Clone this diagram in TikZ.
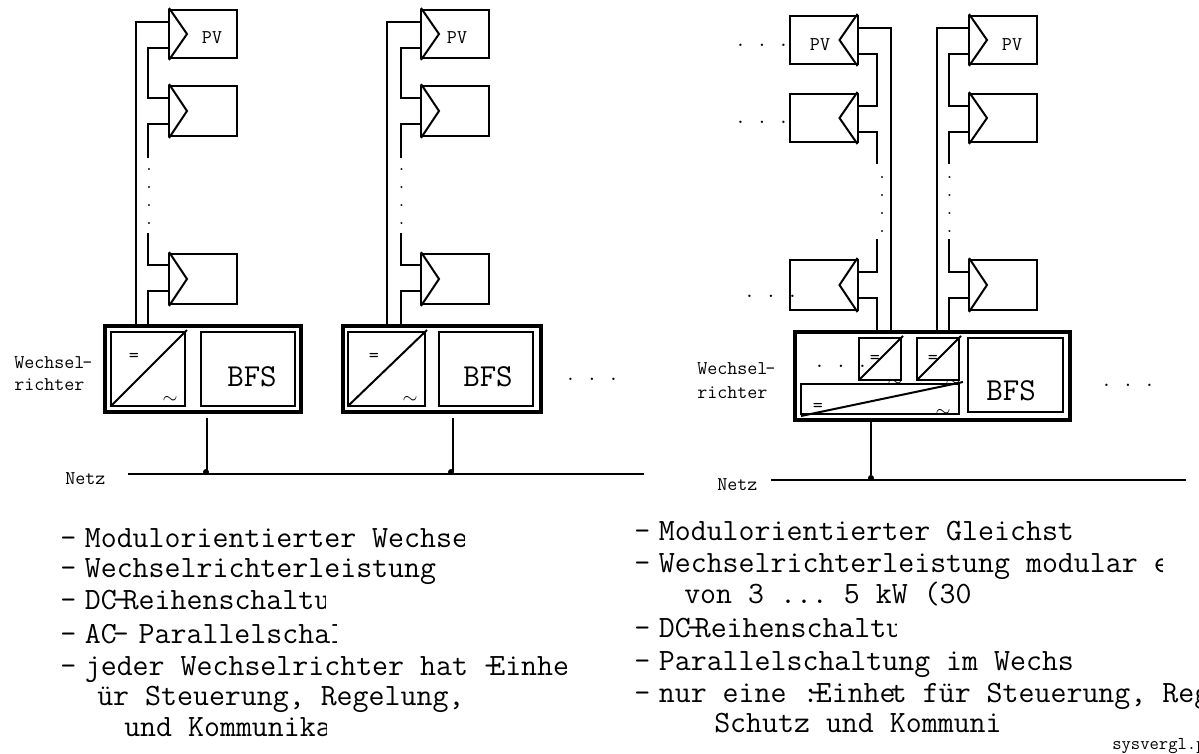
\documentclass[tikz,border=0pt]{standalone}
\usepackage{tikz}
\newcommand{\strich}{-\kern-5.5pt\ }

\begin{document}
\frenchspacing
\begin{tikzpicture}[
      x=0.75pt, y=-0.75pt,
      modul/.style={draw, line width=1.5pt, outer sep=0pt, minimum width=51pt, minimum height=37.5pt, inner sep=0pt},
      modulk/.style={modul, minimum height=36pt},
      rahmen/.style={draw, line width=3.4pt, minimum height=64.5pt, inner sep=0pt},
      innen/.style={draw, line width=1.5pt, outer sep=0pt, inner sep=0pt},
      leitung/.style={-, line width=1.5pt},
      knoten/.style={circle, fill=black, inner sep=0pt, minimum size=4.5pt},
      klein/.style={font=\ttfamily\fontsize{14.6}{16}\selectfont, inner sep=0pt},
      gross/.style={font=\ttfamily\fontsize{24}{26}\selectfont, inner sep=0pt},
      punkte/.style={font=\ttfamily\fontsize{15.7}{13.5}\selectfont, inner sep=0pt, anchor=base},
      reihe/.style={font=\ttfamily\fontsize{13}{13.5}\selectfont, inner sep=0pt, align=center},
      zeile/.style={font=\ttfamily\fontsize{23.25}{24}\selectfont, inner sep=0pt, anchor=base west}
    ]
    \useasboundingbox (0,0) rectangle (1199,753);

    % linke Anlage
    \node[modulk] (a1) at (203,34)  {};
    \node[modul]  (a2) at (203,111) {};
    \node[modul]  (a3) at (203,279) {};
    \node[modulk] (b1) at (455,34)  {};
    \node[modul]  (b2) at (455,111) {};
    \node[modul]  (b3) at (455,279) {};
    \node[klein] (pva) at (212,38) {PV};
    \node[klein] (pvb) at (457,38) {PV};

    % rechte Anlage
    \node[modulk] (c1) at (823.5,40)  {};
    \node[modulk] (c2) at (823.5,118) {};
    \node[modul]  (c3) at (823.5,285) {};
    \node[modulk] (d1) at (1003,40)  {};
    \node[modulk] (d2) at (1003,118) {};
    \node[modul]  (d3) at (1003,285) {};
    \node[klein] (pvc) at (820,45) {PV};
    \node[klein] (pvd) at (1012,45) {PV};

    \foreach \m in {a1,a2,a3,b1,b2,b3,d1,d2,d3}
      \draw[leitung] ([yshift=1.5pt]\m.north west) -- ([xshift=13.5pt]\m.west) -- ([yshift=-1.5pt]\m.south west);
    \foreach \m in {c1,c2,c3}
      \draw[leitung] ([yshift=1.5pt]\m.north east) -- ([xshift=-13.5pt]\m.east) -- ([yshift=-1.5pt]\m.south east);

    % Wechselrichter
    \node[rahmen, minimum width=147pt]    (wa) at (203,369) {};
    \node[rahmen, minimum width=148.5pt]  (wb) at (442,369) {};
    \node[rahmen, minimum width=206.25pt, minimum height=66pt] (wc) at (932.5,376) {};

    \node[innen, minimum width=55.5pt, minimum height=55.5pt] (ua) at (148,369)   {};
    \node[innen, minimum width=57.75pt, minimum height=55.5pt] (ub) at (386.5,369) {};
    \node[innen, minimum width=70.5pt, minimum height=55.5pt] (fa) at (248,369)   {};
    \node[innen, minimum width=70.5pt, minimum height=55.5pt] (fb) at (486,369)   {};
    \node[innen, minimum width=71.25pt, minimum height=55.5pt] (fc) at (1015.5,375) {};
    \node[innen, minimum width=31.5pt, minimum height=31.5pt] (uc) at (880,359) {};
    \node[innen, minimum width=31.5pt, minimum height=31.5pt] (ud) at (938,359) {};

    \node[klein] (tc) at (895,383) {$\sim$};
    \node[klein] (td) at (953,383) {$\sim$};
    \node[innen, fill=white, minimum width=118.5pt, minimum height=22.5pt] (ue) at (880,399) {};
    \node[klein] (te) at (943,413) {$\sim$};

    \draw[leitung] (ua.south west) -- ([xshift=1.5pt,yshift=1.5pt]ua.north east);
    \draw[leitung] (ub.south west) -- ([xshift=1.5pt,yshift=1.5pt]ub.north east);
    \draw[leitung] (uc.south west) -- ([xshift=1.5pt,yshift=1.5pt]uc.north east);
    \draw[leitung] (ud.south west) -- ([xshift=1.5pt,yshift=1.5pt]ud.north east);
    \draw[leitung] ([yshift=-1.5pt]ue.south west) -- ([xshift=3pt,yshift=1.5pt]ue.north east);

    \node[klein] (ga) at (134,357) {=};
    \node[klein] (gb) at (374,357) {=};
    \node[klein] (gc) at (875,359) {=};
    \node[klein] (gd) at (933,359) {=};
    \node[klein] (ge) at (818,407) {=};
    \node[klein] (ta) at (170,400) {$\sim$};
    \node[klein] (tb) at (410,400) {$\sim$};

    \node[gross] (bfsa) at (252,377) {BFS};
    \node[gross] (bfsb) at (488,377) {BFS};
    \node[gross] (bfsc) at (1011,391) {BFS};

    % Strings
    \coordinate (ra) at (136,0);
    \coordinate (sa) at (148,0);
    \coordinate (rb) at (387,0);
    \coordinate (sb) at (401,0);
    \coordinate (rc) at (891,0);
    \coordinate (sc) at (877,0);
    \coordinate (rd) at (937,0);
    \coordinate (sd) at (949,0);
    \coordinate (ea) at (148,158);
    \coordinate (ha) at (148,233);
    \coordinate (eb) at (401,158);
    \coordinate (hb) at (401,233);
    \coordinate (ec) at (877,164);
    \coordinate (hc) at (877,239);
    \coordinate (ed) at (949,164);
    \coordinate (hd) at (949,239);

    \draw[leitung] ([yshift=9pt]a1.west) -| (ra |- wa.north);
    \draw[leitung] ([yshift=-10.5pt]a1.west) -| (ea |- a2.north) |- ([yshift=9.75pt]a2.west);
    \draw[leitung] ([yshift=-9.75pt]a2.west) -| (ea);
    \draw[leitung] (ha) |- ([yshift=10.5pt]a3.west);
    \draw[leitung] ([yshift=-9pt]a3.west) -| (sa |- wa.north);

    \draw[leitung] ([yshift=9pt]b1.west) -| (rb |- wb.north);
    \draw[leitung] ([yshift=-10.5pt]b1.west) -| (eb |- b2.north) |- ([yshift=9.75pt]b2.west);
    \draw[leitung] ([yshift=-9.75pt]b2.west) -| (eb);
    \draw[leitung] (hb) |- ([yshift=10.5pt]b3.west);
    \draw[leitung] ([yshift=-9pt]b3.west) -| (sb |- wb.north);

    \draw[leitung] ([yshift=9pt]c1.east) -| (rc |- wc.north);
    \draw[leitung] ([yshift=-10.5pt]c1.east) -| (sc |- c2.north) |- ([yshift=9pt]c2.east);
    \draw[leitung] ([yshift=-10.5pt]c2.east) -| (ec);
    \draw[leitung] (hc) |- ([yshift=9.75pt]c3.east);
    \draw[leitung] ([yshift=-9.75pt]c3.east) -| (sc |- wc.north);

    \draw[leitung] ([yshift=9pt]d1.west) -| (rd |- wc.north);
    \draw[leitung] ([yshift=-10.5pt]d1.west) -| (sd |- d2.north) |- ([yshift=9pt]d2.west);
    \draw[leitung] ([yshift=-10.5pt]d2.west) -| (ed);
    \draw[leitung] (hd) |- ([yshift=9.75pt]d3.west);
    \draw[leitung] ([yshift=-9.75pt]d3.west) -| (sd |- wc.north);

    % Netz
    \coordinate (na) at (128,474);
    \coordinate (nb) at (644,474);
    \coordinate (nc) at (771,480);
    \coordinate (nd) at (1186,480);
    \draw[leitung] (na) -- (nb);
    \draw[leitung] (nc) -- (nd);
    \node[knoten] (ka) at (206,472) {};
    \node[knoten] (kb) at (451,472) {};
    \node[knoten] (kc) at (871,478) {};
    \draw[leitung] ([xshift=0.75pt,yshift=-3pt]wa.south -| ka) -- ([xshift=0.75pt]ka.center);
    \draw[leitung] ([xshift=1.5pt,yshift=-3pt]wb.south -| kb) -- ([xshift=1.5pt]kb.center);
    \draw[leitung] (wc.south -| kc) -- (kc);

    \node[klein, anchor=base west] (neta) at (65,484) {Netz};
    \node[klein, anchor=base west] (netb) at (717,490) {Netz};
    \node[klein, anchor=base west] (wra) at (14,368) {Wechsel\kern-1.5pt-};
    \node[klein, anchor=base west] (wrb) at (14,390) {richter};
    \node[klein, anchor=base west] (wrc) at (697,374) {Wechsel\kern-1.5pt-};
    \node[klein, anchor=base west] (wrd) at (697,398) {richter};

    % Punkte
    \node[punkte] (pa) at (592,380) {. . .};
    \node[punkte] (pb) at (1128,386) {. . .};
    \node[punkte] (pc) at (762,46) {. . .};
    \node[punkte] (pd) at (762,123) {. . .};
    \node[punkte] (pe) at (771,297) {. . .};
    \node[punkte] (pf) at (841,367) {. . .};
    \node[reihe] (qa) at (149,197) {.\\.\\.\\.};
    \node[reihe] (qb) at (401.5,197) {.\\.\\.\\.};
    \node[reihe] (qc) at (882,205) {.\\.\\.\\.};
    \node[reihe] (qd) at (949.5,205) {.\\.\\.\\.};

    % Texte
    \begin{scope}
      \clip (0,520) rectangle (464,556) (0,556) rectangle (600,590)
            (0,590) rectangle (325,620) (0,624) rectangle (336,656)
            (0,656) rectangle (600,750);
      \node[zeile] (la) at (60,547) {\strich Modulorientierter Wechse};
      \node[zeile] (lb) at (60,577) {\strich Wechselrichterleistung};
      \node[zeile] (lc) at (60,609) {\strich DC\kern-3pt-\kern-4.5pt Reihenschaltu};
      \node[zeile] (ld) at (60,643) {\strich AC\kern-3pt-\kern-4.5pt\ Parallelschal};
      \node[zeile] (le) at (60,675) {\strich jeder Wechselrichter hat -\kern-8pt Einhe};
      \node[zeile] (lf) at (97,705) {ür Steuerung, Regelung,};
      \clip (0,700) rectangle (326,750);
      \node[zeile] (lg) at (124,736) {und Kommunika};
    \end{scope}
    \begin{scope}
      \clip (620,515) rectangle (1199,548) (620,548) rectangle (1162,580)
            (620,580) rectangle (1199,612) (620,612) rectangle (896,648)
            (620,648) rectangle (1199,740);
      \node[zeile] (ra) at (634,540) {\strich Modulorientierter Gleichst};
      \node[zeile] (rb) at (634,572) {\strich Wechselrichterleistung modular e};
      \node[zeile] (rc) at (684,603) {von 3 ... 5 kW (30};
      \node[zeile] (rd) at (634,637) {\strich DC\kern-3pt-\kern-6pt Reihenschaltu};
      \node[zeile] (re) at (634,670) {\strich Parallelschaltung im Wechs};
      \node[zeile] (rf) at (634,702) {\strich nur eine :\kern-7pt-\kern-7pt Einhe\kern-3.5pt t für Steuerung, Reg};
      \node[zeile] (rg) at (714,732) {Schutz und Kommuni};
    \end{scope}
    \begin{scope}
      \clip (1100,735) rectangle (1199,753);
      \node[klein, anchor=base west, font=\ttfamily\fontsize{13.6}{15}\selectfont] (sys) at (1112,749) {sysvergl.p};
    \end{scope}
  \end{tikzpicture}
\end{document}
